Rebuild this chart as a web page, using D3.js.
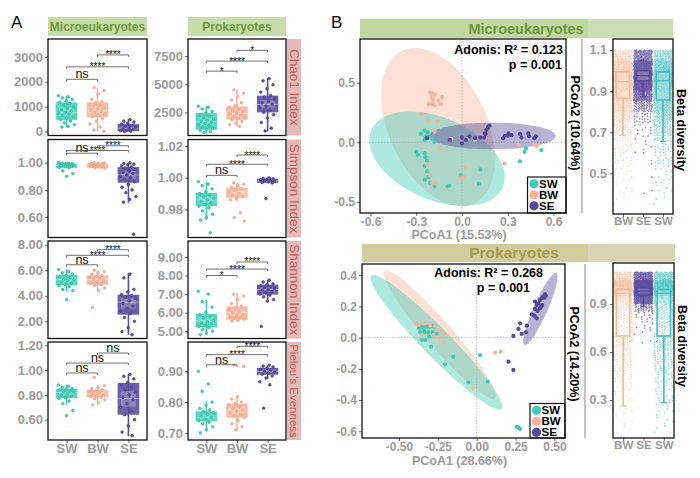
<!DOCTYPE html>
<html>
<head>
<meta charset="utf-8" />
<title>Alpha and beta diversity</title>
<script src="https://d3js.org/d3.v7.min.js"></script>
<style>
  body { margin: 0; background: #fff; }
  svg text { font-family: "Liberation Sans", Arial, sans-serif; }
</style>
</head>
<body>
<svg width="700" height="478"></svg>
<script>
// ---------- data: panel A (alpha diversity) ----------
var groups = ["SW", "BW", "SE"];
var metrics = ["Chao1 Index", "Simpson Index", "Shannon Index", "Pielou's Evenness"];
var kingdoms = ["Microeukaryotes", "Prokaryotes"];

// box stats per group: [lower whisker, q1, median, q3, upper whisker]
var chaoMicroStats = [[173, 467, 760, 1173, 1440], [0, 573, 850, 1173, 1773], [0, 20, 130, 300, 500]];
var chaoMicroPts = [
  [1440, 1400, 1350, 1290, 1220, 1180, 1120, 1050, 980, 920, 870, 820, 780, 740, 700, 650, 600, 540, 480, 420, 350, 280, 210, 180],
  [1770, 1650, 1500, 1300, 1200, 1150, 1100, 1050, 1000, 950, 900, 870, 820, 780, 720, 650, 600, 520, 420, 300, 180, 60, 10],
  [480, 420, 380, 330, 290, 250, 210, 170, 140, 110, 80, 50, 30, 15, 5]];
var chaoMicroSig = [[0, 1, 2100, "ns"], [0, 2, 2600, "****"], [1, 2, 3080, "****"]];

var chaoProkStats = [[650, 955, 1700, 2437, 3098], [1250, 1848, 2400, 3036, 4527], [803, 2500, 3200, 3991, 5563]];
var chaoProkPts = [
  [3050, 2950, 2800, 2600, 2450, 2300, 2150, 2000, 1900, 1800, 1700, 1600, 1500, 1400, 1300, 1200, 1100, 1000, 900, 800, 700],
  [4500, 4200, 3900, 3600, 3350, 3100, 2950, 2800, 2650, 2550, 2450, 2350, 2250, 2150, 2050, 1950, 1850, 1700, 1550, 1400, 1280],
  [5500, 5300, 4950, 4600, 4300, 4000, 3850, 3700, 3500, 3350, 3200, 3050, 2900, 2700, 2500, 2300, 2000, 1600, 1100, 850]];
var chaoProkSig = [[0, 1, 6161, "*"], [0, 2, 7054, "****"], [1, 2, 8009, "*"]];

var simpMicroStats = [[0.96, 0.963, 0.98, 0.993, 1.0], [0.955, 0.962, 0.98, 0.995, 1.0], [0.706, 0.853, 0.91, 0.968, 1.0]];
var simpMicroPts = [
  [1.0, 0.998, 0.996, 0.994, 0.992, 0.99, 0.988, 0.985, 0.982, 0.98, 0.977, 0.973, 0.97, 0.966, 0.962, 0.94, 0.92, 0.90],
  [1.0, 0.998, 0.996, 0.994, 0.991, 0.989, 0.986, 0.983, 0.98, 0.977, 0.974, 0.97, 0.966, 0.962, 0.958],
  [1.0, 0.995, 0.99, 0.985, 0.978, 0.97, 0.96, 0.95, 0.94, 0.93, 0.92, 0.91, 0.9, 0.89, 0.88, 0.86, 0.84, 0.82, 0.8, 0.78, 0.75, 0.73, 0.71, 0.474]];
var simpMicroSig = [[0, 1, 1.07, "ns"], [0, 2, 1.09, "****"], [1, 2, 1.125, "****"]];

var simpProkStats = [[0.9733, 0.9821, 0.986, 0.9905, 0.9975], [0.985, 0.9874, 0.991, 0.9937, 0.9968], [0.9965, 0.9968, 0.998, 0.9994, 1.0]];
var simpProkPts = [
  [0.9975, 0.996, 0.995, 0.993, 0.991, 0.990, 0.989, 0.988, 0.987, 0.986, 0.985, 0.984, 0.983, 0.982, 0.981, 0.979, 0.977, 0.975, 0.9733, 0.9653],
  [0.9968, 0.996, 0.995, 0.994, 0.993, 0.992, 0.991, 0.990, 0.989, 0.988, 0.987, 0.986, 0.978, 0.9748, 0.9727],
  [0.9999, 0.9996, 0.9993, 0.999, 0.9987, 0.9984, 0.998, 0.9977, 0.9974, 0.997, 0.9967, 0.9868]];
var simpProkSig = [[0, 1, 1.0015, "ns"], [0, 2, 1.0085, "****"], [1, 2, 1.0143, "****"]];

var shanMicroStats = [[4.35, 4.82, 5.25, 5.65, 6.1], [4.35, 4.87, 5.3, 5.6, 6.0], [0.95, 2.52, 3.5, 4.08, 5.78]];
var shanMicroPts = [
  [6.05, 5.9, 5.8, 5.7, 5.6, 5.5, 5.4, 5.3, 5.25, 5.2, 5.1, 5.0, 4.9, 4.8, 4.7, 4.5, 4.4, 3.69],
  [6.0, 5.9, 5.8, 5.7, 5.6, 5.5, 5.45, 5.35, 5.3, 5.2, 5.1, 5.0, 4.9, 4.8, 4.6, 4.4, 3.1],
  [5.7, 5.4, 4.5, 4.3, 4.1, 4.0, 3.9, 3.8, 3.6, 3.4, 3.2, 3.0, 2.8, 2.6, 2.3, 2.0, 1.5, 1.2, 0.95]];
var shanMicroSig = [[0, 1, 6.43, "ns"], [0, 2, 7.17, "****"], [1, 2, 7.61, "****"]];

var shanProkStats = [[4.81, 5.21, 5.55, 5.93, 6.7], [5.53, 5.62, 6.0, 6.34, 7.06], [6.61, 6.97, 7.25, 7.51, 7.78]];
var shanProkPts = [
  [7.15, 7.0, 6.6, 6.3, 6.0, 5.9, 5.8, 5.7, 5.6, 5.5, 5.45, 5.4, 5.3, 5.25, 5.2, 5.1, 5.0, 4.9, 4.82],
  [7.0, 6.9, 6.7, 6.5, 6.35, 6.25, 6.15, 6.05, 6.0, 5.9, 5.85, 5.8, 5.75, 5.7, 5.65, 5.6, 5.55],
  [7.75, 7.65, 7.55, 7.5, 7.45, 7.4, 7.35, 7.3, 7.25, 7.2, 7.15, 7.1, 7.0, 6.95, 6.85, 6.7, 6.62, 5.26]];
var shanProkSig = [[0, 1, 8.0, "*"], [0, 2, 8.35, "****"], [1, 2, 8.73, "****"]];

var pielMicroStats = [[0.72, 0.775, 0.82, 0.85, 0.882], [0.72, 0.781, 0.81, 0.842, 0.88], [0.466, 0.64, 0.77, 0.896, 0.969]];
var pielMicroPts = [
  [0.88, 0.87, 0.86, 0.85, 0.845, 0.84, 0.83, 0.825, 0.82, 0.81, 0.8, 0.79, 0.78, 0.77, 0.75, 0.73, 0.673, 0.632],
  [0.942, 0.875, 0.86, 0.85, 0.84, 0.83, 0.825, 0.82, 0.81, 0.8, 0.795, 0.79, 0.78, 0.77, 0.76, 0.74, 0.72],
  [0.965, 0.95, 0.93, 0.9, 0.88, 0.86, 0.84, 0.82, 0.8, 0.78, 0.76, 0.73, 0.7, 0.67, 0.64, 0.6, 0.55, 0.5, 0.47]];
var pielMicroSig = [[0, 1, 0.977, "ns"], [0, 2, 1.057, "ns"], [1, 2, 1.138, "ns"]];

var pielProkStats = [[0.705, 0.738, 0.75, 0.77, 0.803], [0.707, 0.749, 0.775, 0.795, 0.819], [0.875, 0.889, 0.90, 0.911, 0.92]];
var pielProkPts = [
  [0.9, 0.859, 0.835, 0.8, 0.79, 0.78, 0.775, 0.77, 0.765, 0.76, 0.755, 0.75, 0.745, 0.74, 0.735, 0.73, 0.72, 0.71, 0.70],
  [0.92, 0.916, 0.818, 0.81, 0.8, 0.795, 0.79, 0.785, 0.78, 0.775, 0.77, 0.765, 0.76, 0.755, 0.75, 0.74, 0.73, 0.72, 0.71],
  [0.92, 0.917, 0.914, 0.91, 0.907, 0.904, 0.9, 0.897, 0.894, 0.89, 0.885, 0.878, 0.866, 0.856, 0.78]];
var pielProkSig = [[0, 1, 0.921, "ns"], [0, 2, 0.954, "****"], [1, 2, 0.981, "****"]];

// axis tick values for panel A
var chaoMicroTicks = [0, 1000, 2000, 3000], chaoProkTicks = [2500, 5000, 7500];
var simpMicroTicks = [0.6, 0.8, 1.0], simpProkTicks = [0.98, 1.0, 1.02];
var shanMicroTicks = [2, 4, 6, 8], shanProkTicks = [5, 6, 7, 8, 9];
var pielMicroTicks = [0.6, 0.8, 1.0, 1.2], pielProkTicks = [0.7, 0.8, 0.9];

// ---------- data: panel B (PCoA) ----------
// ellipse: [centre x, centre y, axis1 x, axis1 y, axis2 x, axis2 y]  (order BW, SW, SE)
var microEllipses = [[-0.157, 0.128, -0.235, 0.641, 0.290, 0.175],
                     [-0.164, -0.138, 0.431, -0.240, -0.1075, -0.316],
                     [0.199, 0.053, 0.415, 0, 0, 0.112]];
var prokEllipses = [[-0.238, 0.019, 0.356, -0.408, 0.063, 0.0545],
                    [-0.259, -0.030, 0.42, -0.4276, 0.064, 0.063],
                    [0.41, 0.184, 0.102, 0.23, 0.041, -0.018]];
var ellipseGroups = ["BW", "SW", "SE"];

var microPcoaSW = [[-0.245,0.10],[-0.27,0.07],[-0.22,0.05],[-0.24,0.05],[-0.245,0.02],[-0.195,0.03],[-0.18,0.005],[-0.30,-0.08],[-0.29,-0.105],[-0.245,-0.09],[-0.24,-0.125],[-0.23,-0.155],[-0.245,-0.20],[-0.23,-0.245],[-0.245,-0.315],[-0.22,-0.29],[-0.21,-0.34],[-0.18,-0.37],[-0.095,-0.37],[-0.085,-0.365],[-0.01,-0.275],[0.11,-0.35],[0.12,-0.23],[0.38,-0.16],[0.41,-0.08],[0.42,-0.05],[0.52,-0.065],[-0.225,0.085]];
var microPcoaBW = [[-0.21,0.42],[-0.195,0.41],[-0.20,0.38],[-0.18,0.40],[-0.19,0.36],[-0.155,0.35],[-0.13,0.38],[-0.18,0.31],[-0.195,0.32],[-0.22,0.32],[-0.14,0.32],[-0.265,0.24],[-0.225,0.18],[-0.16,0.18],[-0.18,0.09],[-0.14,-0.05],[-0.07,0.03],[0.085,0.02],[-0.23,-0.185],[-0.21,-0.275],[-0.195,-0.34],[-0.17,-0.34],[-0.01,-0.30],[0.015,-0.29],[0.28,-0.18],[0.37,-0.02],[0.475,-0.02],[0.49,-0.03],[0.02,-0.21]];
var microPcoaSE = [[-0.23,0.035],[-0.08,0.02],[0.0,-0.01],[0.0,0.04],[0.025,0.02],[0.05,0.05],[0.085,0.035],[0.12,0.04],[0.145,0.04],[0.155,0.07],[0.16,0.105],[0.17,0.12],[0.172,0.13],[0.18,0.14],[0.15,0.075],[0.27,0.035],[0.28,0.055],[0.30,0.055],[0.305,0.075],[0.325,0.06],[0.38,0.07],[0.39,0.04],[0.435,0.075],[0.44,0.05],[0.485,0.05],[0.475,0.035]];

var prokPcoaSW = [[-0.371,0.064],[-0.358,0.071],[-0.343,0.060],[-0.332,0.071],[-0.315,0.071],[-0.300,0.071],[-0.289,0.075],[-0.272,0.071],[-0.364,0.034],[-0.337,0.038],[-0.311,0.034],[-0.285,0.034],[-0.354,-0.015],[-0.332,-0.015],[-0.307,0.006],[-0.294,-0.058],[-0.257,0.026],[-0.204,-0.171],[-0.150,-0.122],[-0.054,-0.286],[0.071,-0.282],[0.021,-0.111],[0.257,-0.571],[0.268,-0.577],[0.279,-0.585]];
var prokPcoaBW = [[-0.392,0.092],[-0.371,0.081],[-0.332,0.092],[-0.300,0.077],[-0.268,0.075],[-0.236,0.043],[-0.204,0.021],[-0.214,-0.030],[-0.242,-0.004],[-0.279,0.017],[-0.021,-0.325],[0.118,-0.096],[0.154,-0.090],[-0.354,0.017]];
var prokPcoaSE = [[0.375,0.231],[0.386,0.209],[0.397,0.220],[0.407,0.241],[0.418,0.252],[0.429,0.263],[0.439,0.278],[0.435,0.256],[0.375,0.184],[0.392,0.171],[0.407,0.188],[0.422,0.209],[0.354,0.150],[0.371,0.141],[0.386,0.124],[0.322,0.077],[0.317,0.034],[0.289,0.024],[0.236,0.011],[0.204,-0.154],[0.236,-0.207],[0.444,0.269],[0.414,0.199],[0.268,0.056],[0.279,0.092]];

// ---------- data: panel B (beta diversity) ----------
var betaGroups = ["BW", "SE", "SW"];
var betaBinW = 0.05;
var microBetaBins = d3.range(0.35, 1.099, betaBinW);     // lower bin edges
var prokBetaBins = d3.range(0.10, 1.099, betaBinW);
var microBetaCounts = [[3, 4, 6, 8, 10, 14, 22, 35, 55, 80, 110, 140, 150, 120, 70],
                       [0, 2, 1, 1, 2, 4, 6, 10, 20, 60, 140, 220, 260, 200, 110],
                       [3, 5, 7, 10, 14, 18, 26, 40, 60, 85, 115, 140, 150, 120, 70]];
var prokBetaCounts = [[2, 3, 4, 5, 6, 8, 10, 12, 15, 18, 22, 26, 20, 22, 25, 30, 60, 130, 140, 70],
                      [0, 0, 0, 0, 0, 0, 0, 0, 0, 0, 0, 2, 4, 6, 12, 40, 150, 300, 260, 120],
                      [3, 4, 5, 6, 8, 10, 12, 14, 17, 20, 24, 28, 25, 28, 30, 35, 70, 150, 160, 80]];
var microBetaStats = [[0.686, 0.865, 0.946, 0.994, 1.1], [0.873, 0.95, 0.975, 0.999, 1.1], [0.654, 0.857, 0.95, 0.994, 1.1]];
var prokBetaStats = [[0.263, 0.70, 0.967, 0.994, 1.1], [0.883, 0.96, 0.98, 1.0, 1.1], [0.283, 0.70, 0.967, 0.99, 1.1]];

// ---------- styles ----------
var boxFill = {SW: "#45D0BA", BW: "#F8B69C", SE: "#5E4F9F"};
var dotFill = {SW: "#2DB39C", BW: "#E79E83", SE: "#47398A"};
var pcoaCol = {SW: "#3FCBB6", BW: "#F7B39A", SE: "#56489B"};
var betaCol = {BW: "#F5B995", SE: "#5A4A9D", SW: "#3CBEC1"};
var gray = "#9B9B9B";

var svg = d3.select("svg");

function styleAxis(sel, size) {
  sel.select(".domain").remove();
  sel.selectAll(".tick line").attr("stroke", "#444").attr("stroke-width", 0.8);
  sel.selectAll(".tick text").attr("fill", gray).attr("font-weight", "bold")
    .attr("font-size", size).attr("font-family", "'Liberation Sans', Arial, sans-serif");
}

// ---------- panel A ----------
var colX = [[48, 147], [188, 286]];
var rowY = [[39, 135.5], [139.5, 237.5], [241, 338.5], [342, 440]];
var fix2 = function(d) { return d.toFixed(2); };
var plain = function(d) { return String(d); };

var alphaPanels = [
  {row: 0, col: 0, stats: chaoMicroStats, pts: chaoMicroPts, sig: chaoMicroSig, domain: [-160, 3720], ticks: chaoMicroTicks, fmt: plain},
  {row: 0, col: 1, stats: chaoProkStats, pts: chaoProkPts, sig: chaoProkSig, domain: [446, 9019], ticks: chaoProkTicks, fmt: plain},
  {row: 1, col: 0, stats: simpMicroStats, pts: simpMicroPts, sig: simpMicroSig, domain: [0.45, 1.171], ticks: simpMicroTicks, fmt: fix2},
  {row: 1, col: 1, stats: simpProkStats, pts: simpProkPts, sig: simpProkSig, domain: [0.9623, 1.0241], ticks: simpProkTicks, fmt: fix2},
  {row: 2, col: 0, stats: shanMicroStats, pts: shanMicroPts, sig: shanMicroSig, domain: [0.655, 8.29], ticks: shanMicroTicks, fmt: fix2},
  {row: 2, col: 1, stats: shanProkStats, pts: shanProkPts, sig: shanProkSig, domain: [4.61, 9.86], ticks: shanProkTicks, fmt: fix2},
  {row: 3, col: 0, stats: pielMicroStats, pts: pielMicroPts, sig: pielMicroSig, domain: [0.436, 1.227], ticks: pielMicroTicks, fmt: fix2},
  {row: 3, col: 1, stats: pielProkStats, pts: pielProkPts, sig: pielProkSig, domain: [0.677, 0.995], ticks: pielProkTicks, fmt: fix2}
];

alphaPanels.forEach(function(p) {
  var x0 = colX[p.col][0], x1 = colX[p.col][1];
  var y0 = rowY[p.row][0], y1 = rowY[p.row][1];
  var x = d3.scalePoint().domain(groups).range([x0, x1]).padding(0.6);
  var y = d3.scaleLinear().domain(p.domain).range([y1, y0]);
  var bw = x.step() * 0.7;
  var g = svg.append("g");

  g.append("g").attr("transform", "translate(" + x0 + ",0)")
    .call(d3.axisLeft(y).tickValues(p.ticks).tickFormat(p.fmt).tickSize(3).tickPadding(2))
    .call(styleAxis, 13);
  if (p.row === 3) {
    g.append("g").attr("transform", "translate(0," + y1 + ")")
      .call(d3.axisBottom(x).tickSize(3).tickPadding(1))
      .call(styleAxis, 13);
  }

  groups.forEach(function(grp, i) {
    var s = p.stats[i], cx = x(grp);
    g.append("line").attr("x1", cx).attr("x2", cx).attr("y1", y(s[0])).attr("y2", y(s[4]))
      .attr("stroke", boxFill[grp]).attr("stroke-width", 1.6);
    g.append("rect").attr("x", cx - bw / 2).attr("width", bw)
      .attr("y", y(s[3])).attr("height", Math.max(1, y(s[1]) - y(s[3])))
      .attr("fill", boxFill[grp]).attr("opacity", 0.9);
    var ia = s[2] + (s[3] - s[2]) * 0.5, ib = s[2] - (s[2] - s[1]) * 0.5;
    g.append("rect").attr("x", cx - bw * 0.35).attr("width", bw * 0.7)
      .attr("y", y(ia)).attr("height", Math.max(0.5, y(ib) - y(ia)))
      .attr("fill", "#fff").attr("opacity", 0.22);
    g.append("line").attr("x1", cx - bw / 2).attr("x2", cx + bw / 2).attr("y1", y(s[2])).attr("y2", y(s[2]))
      .attr("stroke", "#fff").attr("stroke-opacity", 0.45).attr("stroke-width", 0.8);

    g.selectAll(null).data(p.pts[i]).enter().append("circle")
      .attr("cx", function(d, j) { return cx + (((j * 0.618034 + i * 0.3) % 1) - 0.5) * bw * 0.75; })
      .attr("cy", function(d) { return y(d); })
      .attr("r", 1.35)
      .attr("fill", boxFill[grp]).attr("stroke", dotFill[grp]).attr("stroke-width", 0.6);
  });

  p.sig.forEach(function(s) {
    var xa = x(groups[s[0]]), xb = x(groups[s[1]]), yy = y(s[2]);
    g.append("path").attr("d", "M" + xa + "," + (yy + 2) + "V" + yy + "H" + xb + "V" + (yy + 2))
      .attr("fill", "none").attr("stroke", "#333").attr("stroke-width", 0.7);
    var ns = s[3] === "ns";
    g.append("text").attr("x", (xa + xb) / 2).attr("y", ns ? yy - 1 : yy + 3.5)
      .attr("text-anchor", "middle").attr("font-size", ns ? 12.5 : 10).attr("fill", "#111")
      .text(s[3]);
  });

  g.append("rect").attr("x", x0).attr("y", y0).attr("width", x1 - x0).attr("height", y1 - y0)
    .attr("fill", "none").attr("stroke", "#111").attr("stroke-width", 1.3);
});

// column strips
kingdoms.forEach(function(k, c) {
  svg.append("rect").attr("x", colX[c][0]).attr("y", 17).attr("width", colX[c][1] - colX[c][0]).attr("height", 19)
    .attr("fill", "#C7DCA8");
  svg.append("text").attr("x", (colX[c][0] + colX[c][1]) / 2).attr("y", 31)
    .attr("text-anchor", "middle").attr("font-weight", "bold").attr("font-size", 12).attr("fill", "#6E9A3C")
    .text(k);
});
// row strips
metrics.forEach(function(m, r) {
  svg.append("rect").attr("x", 287).attr("y", rowY[r][0]).attr("width", 14).attr("height", rowY[r][1] - rowY[r][0])
    .attr("fill", "#E6B9B9");
  svg.append("text").attr("transform", "translate(289.5," + (rowY[r][0] + rowY[r][1]) / 2 + ") rotate(90)")
    .attr("text-anchor", "middle").attr("font-size", r === 3 ? 11.5 : 13.5).attr("fill", "#BE5C5E")
    .text(m);
});
svg.append("text").attr("x", 11).attr("y", 28).attr("font-size", 17).text("A");
svg.append("text").attr("x", 331).attr("y", 28).attr("font-size", 17).text("B");

// ---------- panel B: PCoA ----------
function drawPcoa(cfg) {
  var x = d3.scaleLinear().domain(cfg.xDomain).range([cfg.x0, cfg.x1]);
  var y = d3.scaleLinear().domain(cfg.yDomain).range([cfg.y1, cfg.y0]);
  var g = svg.append("g");

  g.append("line").attr("x1", x(0)).attr("x2", x(0)).attr("y1", cfg.y0).attr("y2", cfg.y1)
    .attr("stroke", "#999").attr("stroke-width", 0.6).attr("stroke-dasharray", "1.5,1.5");
  g.append("line").attr("x1", cfg.x0).attr("x2", cfg.x1).attr("y1", y(0)).attr("y2", y(0))
    .attr("stroke", "#999").attr("stroke-width", 0.6).attr("stroke-dasharray", "1.5,1.5");

  var line = d3.line().curve(d3.curveLinearClosed);
  cfg.ellipses.forEach(function(e, i) {
    var ring = d3.range(0, 2 * Math.PI, Math.PI / 60).map(function(t) {
      return [x(e[0] + Math.cos(t) * e[2] + Math.sin(t) * e[4]), y(e[1] + Math.cos(t) * e[3] + Math.sin(t) * e[5])];
    });
    g.append("path").attr("d", line(ring)).attr("fill", pcoaCol[ellipseGroups[i]]).attr("fill-opacity", 0.42);
  });

  [["SW", cfg.sw], ["BW", cfg.bw], ["SE", cfg.se]].forEach(function(s) {
    g.selectAll(null).data(s[1]).enter().append("circle")
      .attr("cx", function(d) { return x(d[0]); }).attr("cy", function(d) { return y(d[1]); })
      .attr("r", 2.1).attr("fill", pcoaCol[s[0]]);
  });

  g.append("g").attr("transform", "translate(" + cfg.x0 + ",0)")
    .call(d3.axisLeft(y).tickValues(cfg.yTicks).tickFormat(function(d) { return d.toFixed(1); }).tickSize(3).tickPadding(2))
    .call(styleAxis, 12);
  g.append("g").attr("transform", "translate(0," + cfg.y1 + ")")
    .call(d3.axisBottom(x).tickValues(cfg.xTicks).tickFormat(function(d) { return d.toFixed(cfg.xDec); }).tickSize(3).tickPadding(1.5))
    .call(styleAxis, 12);

  g.append("text").attr("x", cfg.adonisX).attr("y", cfg.adonisY).attr("text-anchor", "end")
    .attr("font-weight", "bold").attr("font-size", 12.5).text(cfg.adonis);
  g.append("text").attr("x", cfg.pX).attr("y", cfg.adonisY + 14.5).attr("text-anchor", "end")
    .attr("font-weight", "bold").attr("font-size", 12.5).text("p = 0.001");

  // legend
  var lg = g.append("g");
  lg.append("rect").attr("x", cfg.legX).attr("y", cfg.legY).attr("width", cfg.x1 - cfg.legX).attr("height", cfg.y1 - cfg.legY)
    .attr("fill", "#fff").attr("stroke", "#111").attr("stroke-width", 1.2);
  ["SW", "BW", "SE"].forEach(function(grp, i) {
    var yy = cfg.legY + 6.8 + i * 11;
    lg.append("circle").attr("cx", cfg.legX + 6.5).attr("cy", yy).attr("r", 4.6).attr("fill", pcoaCol[grp]);
    lg.append("text").attr("x", cfg.legX + 11.5).attr("y", yy + 4).attr("font-weight", "bold")
      .attr("font-size", 11.5).text(grp);
  });

  g.append("rect").attr("x", cfg.x0).attr("y", cfg.y0).attr("width", cfg.x1 - cfg.x0).attr("height", cfg.y1 - cfg.y0)
    .attr("fill", "none").attr("stroke", "#111").attr("stroke-width", 1.3);

  g.append("text").attr("x", (cfg.x0 + cfg.x1) / 2 - 4).attr("y", cfg.titleY).attr("text-anchor", "middle")
    .attr("font-weight", "bold").attr("font-size", 12.5).attr("fill", gray).text(cfg.xTitle);
  g.append("text").attr("transform", "translate(" + (cfg.x1 + 5) + "," + cfg.yTitleC + ") rotate(90)")
    .attr("text-anchor", "middle").attr("font-weight", "bold").attr("font-size", 12.5).text(cfg.yTitle);
  g.append("line").attr("x1", cfg.sepX).attr("x2", cfg.sepX).attr("y1", cfg.y0).attr("y2", cfg.y1)
    .attr("stroke", "#888").attr("stroke-width", 1);
}

// ---------- panel B: beta diversity ----------
function drawBeta(cfg) {
  var x = d3.scalePoint().domain(betaGroups).range([cfg.x0, cfg.x1]).padding(0.5);
  var y = d3.scaleLinear().domain(cfg.domain).range([cfg.y1, cfg.y0]);
  var g = svg.append("g");
  var cloudW = x.step() * 0.92, bw = x.step() * 0.66;

  betaGroups.forEach(function(grp, gi) {
    var pts = [];
    cfg.counts[gi].forEach(function(n, b) {
      var lo = cfg.bins[b];
      for (var k = 0; k < n; k++) {
        pts.push([x(grp) + ((((k + b * 7) * 0.5698403) % 1) - 0.5) * cloudW,
                  y(lo + ((k * 0.7548777 + b * 0.31) % 1) * betaBinW)]);
      }
    });
    g.selectAll(null).data(pts).enter().append("circle")
      .attr("cx", function(d) { return d[0]; }).attr("cy", function(d) { return d[1]; })
      .attr("r", 0.85).attr("fill", betaCol[grp]).attr("fill-opacity", grp === "SE" ? 0.65 : 0.55);
  });
  betaGroups.forEach(function(grp, gi) {
    var s = cfg.stats[gi], cx = x(grp);
    g.append("line").attr("x1", cx).attr("x2", cx).attr("y1", y(s[0])).attr("y2", y(s[1]))
      .attr("stroke", betaCol[grp]).attr("stroke-width", 1.6);
    g.append("line").attr("x1", cx - 3).attr("x2", cx + 3).attr("y1", y(s[0])).attr("y2", y(s[0]))
      .attr("stroke", betaCol[grp]).attr("stroke-width", 1.2);
    g.append("rect").attr("x", cx - bw / 2).attr("width", bw).attr("y", y(s[3])).attr("height", y(s[1]) - y(s[3]))
      .attr("fill", "#fff").attr("fill-opacity", 0.22).attr("stroke", betaCol[grp]).attr("stroke-width", 1.5);
    g.append("line").attr("x1", cx - bw / 2).attr("x2", cx + bw / 2).attr("y1", y(s[2])).attr("y2", y(s[2]))
      .attr("stroke", betaCol[grp]).attr("stroke-width", 1.3);
  });

  g.append("g").attr("transform", "translate(" + cfg.x0 + ",0)")
    .call(d3.axisLeft(y).tickValues(cfg.ticks).tickFormat(function(d) { return d.toFixed(1); }).tickSize(3).tickPadding(3))
    .call(styleAxis, 12.5);
  g.append("g").attr("transform", "translate(0," + cfg.y1 + ")")
    .call(d3.axisBottom(x).tickSize(3).tickPadding(0))
    .call(styleAxis, 11.5);
  g.append("rect").attr("x", cfg.x0).attr("y", cfg.y0).attr("width", cfg.x1 - cfg.x0).attr("height", cfg.y1 - cfg.y0)
    .attr("fill", "none").attr("stroke", "#111").attr("stroke-width", 1.3);
  g.append("text").attr("transform", "translate(" + (cfg.x1 + 4) + "," + cfg.titleC + ") rotate(90)")
    .attr("text-anchor", "middle").attr("font-weight", "bold").attr("font-size", 12.5).text("Beta diversity");
}

function drawStrip(x0, x1, y0, y1, dark, light, col, label, size, cx) {
  svg.append("rect").attr("x", x0).attr("y", y0).attr("width", 588 - x0).attr("height", y1 - y0).attr("fill", dark);
  svg.append("rect").attr("x", 588).attr("y", y0).attr("width", x1 - 588).attr("height", y1 - y0).attr("fill", light);
  svg.append("text").attr("x", cx).attr("y", y1 - 4.5).attr("text-anchor", "middle").attr("font-weight", "bold")
    .attr("font-size", size).attr("fill", col).text(label);
}

drawStrip(360, 673, 19, 38, "#C2D8A1", "#CADDB3", "#6B9A3A", "Microeukaryotes", 14.5, 526);
drawStrip(362, 675, 244, 262, "#D3CD9E", "#D9D4B2", "#A69C4E", "Prokaryotes", 15.5, 514);

drawPcoa({x0: 360, x1: 566, y0: 39, y1: 213, xDomain: [-0.669, 0.682], yDomain: [-0.594, 0.868],
  xTicks: [-0.6, -0.3, 0, 0.3, 0.6], yTicks: [-0.5, 0, 0.5], xDec: 1,
  ellipses: microEllipses, sw: microPcoaSW, bw: microPcoaBW, se: microPcoaSE,
  adonis: "Adonis: R\u00B2 = 0.123", adonisX: 563, pX: 562, adonisY: 54,
  legX: 527.5, legY: 177, xTitle: "PCoA1 (15.53%)", titleY: 239, yTitle: "PCoA2 (10.64%)", yTitleC: 123, sepX: 582});
drawPcoa({x0: 362, x1: 565, y0: 264, y1: 438, xDomain: [-0.738, 0.568], yDomain: [-0.643, 0.472],
  xTicks: [-0.5, -0.25, 0, 0.25, 0.5], yTicks: [-0.6, -0.4, -0.2, 0, 0.2, 0.4], xDec: 2,
  ellipses: prokEllipses, sw: prokPcoaSW, bw: prokPcoaBW, se: prokPcoaSE,
  adonis: "Adonis: R\u00B2 = 0.268", adonisX: 543, pX: 530, adonisY: 277,
  legX: 530, legY: 403.5, xTitle: "PCoA1 (28.66%)", titleY: 465, yTitle: "PCoA2 (14.20%)", yTitleC: 354, sepX: 585});

drawBeta({x0: 613, x1: 673, y0: 39, y1: 214, domain: [0.302, 1.1535], ticks: [0.5, 0.7, 0.9, 1.1],
  bins: microBetaBins, counts: microBetaCounts, stats: microBetaStats, titleC: 130});
drawBeta({x0: 613, x1: 674, y0: 263, y1: 438, domain: [0.0625, 1.156], ticks: [0.3, 0.6, 0.9],
  bins: prokBetaBins, counts: prokBetaCounts, stats: prokBetaStats, titleC: 346});
</script>
</body>
</html>
